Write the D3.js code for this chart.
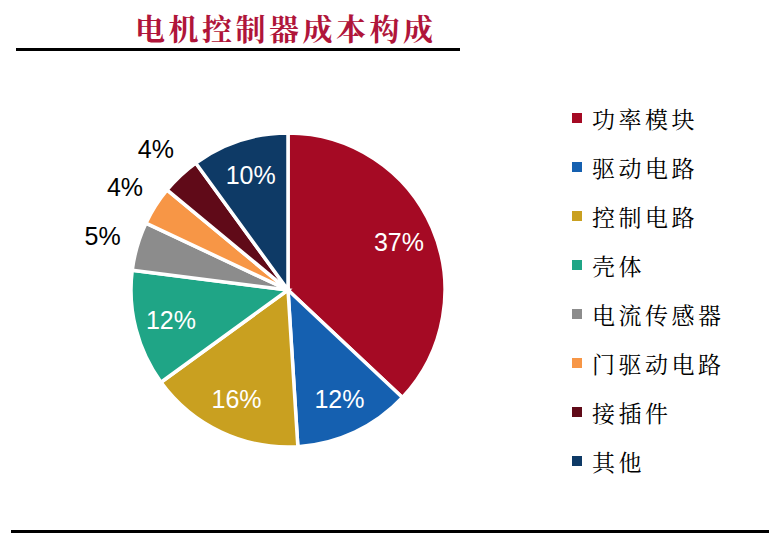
<!DOCTYPE html>
<html>
<head>
<meta charset="utf-8">
<script src="https://cdn.jsdelivr.net/npm/d3@7"></script>
<style>
  body { margin: 0; background: #fff; }
  svg { display: block; }
</style>
</head>
<body>
<div id="chart"></div>
<script>
// Data
const title = "电机控制器成本构成";
const categories = ["功率模块", "驱动电路", "控制电路", "壳体", "电流传感器", "门驱动电路", "接插件", "其他"];
const shares = [37, 12, 16, 12, 5, 4, 4, 10];
const colors = ["#A50A24", "#1560B0", "#C9A020", "#1FA586", "#8C8C8C", "#F79646", "#600A18", "#0E3A66"];

const width = 769, height = 536;
const cx = 288, cy = 290, radius = 157;

const svg = d3.select("#chart").append("svg")
    .attr("width", width)
    .attr("height", height);

// Title and rules
svg.append("text")
    .text(title)
    .attr("x", 135)
    .attr("y", 40)
    .attr("fill", "#B0153A")
    .attr("font-family", "'Noto Serif CJK SC', 'Noto Sans CJK SC', sans-serif")
    .attr("font-weight", "bold")
    .attr("font-size", 30)
    .attr("letter-spacing", 3.5);

svg.append("rect").attr("x", 16).attr("y", 48).attr("width", 444).attr("height", 3).attr("fill", "#000");
svg.append("rect").attr("x", 11).attr("y", 530).attr("width", 758).attr("height", 3).attr("fill", "#000");

// Pie
const data = categories.map((c, i) => ({ name: c, value: shares[i], color: colors[i] }));

const pie = d3.pie()
    .value(d => d.value)
    .sort(null);

const arc = d3.arc()
    .innerRadius(0)
    .outerRadius(radius);

const innerLabel = d3.arc().innerRadius(radius * 0.77).outerRadius(radius * 0.77);
const outerLabel = d3.arc().innerRadius(radius * 1.23).outerRadius(radius * 1.23);

const g = svg.append("g")
    .attr("transform", `translate(${cx},${cy})`);

const arcs = pie(data);

g.selectAll("path")
    .data(arcs)
    .enter().append("path")
    .attr("d", arc)
    .attr("fill", d => d.data.color)
    .attr("stroke", "#fff")
    .attr("stroke-width", 3.5)
    .attr("stroke-linejoin", "miter");

g.selectAll(".pct")
    .data(arcs)
    .enter().append("text")
    .attr("class", "pct")
    .text(d => d.data.value + "%")
    .attr("transform", d => {
        const p = d.data.value >= 10 ? innerLabel.centroid(d) : outerLabel.centroid(d);
        return `translate(${p[0]},${p[1]})`;
    })
    .attr("text-anchor", "middle")
    .attr("dominant-baseline", "central")
    .attr("font-family", "Arial, 'Liberation Sans', sans-serif")
    .attr("font-size", 25)
    .attr("fill", d => d.data.value >= 10 ? "#fff" : "#000");

// Legend
const legend = svg.append("g")
    .attr("transform", "translate(572,118)");

const rows = legend.selectAll(".row")
    .data(data)
    .enter().append("g")
    .attr("class", "row")
    .attr("transform", (d, i) => `translate(0,${i * 49})`);

rows.append("rect")
    .attr("x", 0)
    .attr("y", -5)
    .attr("width", 10)
    .attr("height", 10)
    .attr("fill", d => d.color);

rows.append("text")
    .text(d => d.name)
    .attr("x", 20)
    .attr("y", 0)
    .attr("dominant-baseline", "central")
    .attr("font-family", "'Noto Serif CJK SC', 'Noto Sans CJK SC', sans-serif")
    .attr("font-size", 23)
    .attr("letter-spacing", 3.5)
    .attr("fill", "#000");
</script>
</body>
</html>
